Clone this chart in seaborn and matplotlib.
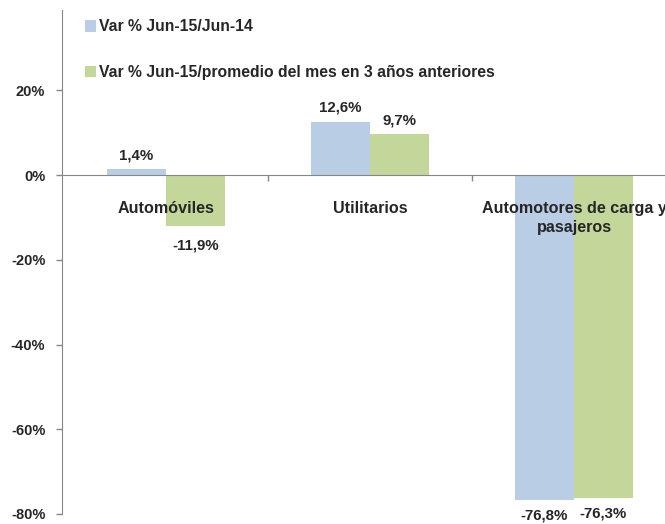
import matplotlib
matplotlib.use("Agg")
import matplotlib.pyplot as plt
import seaborn as sns
import pandas as pd

categories = ["Automóviles", "Utilitarios", "Automotores de carga y\npasajeros"]
series_names = ["Var % Jun-15/Jun-14", "Var % Jun-15/promedio del mes en 3 años anteriores"]
var_anual = [1.4, 12.6, -76.8]
var_promedio = [-11.9, 9.7, -76.3]
y_ticks = [-80, -60, -40, -20, 0, 20]
colors = ["#B9CDE5", "#C4D79B"]

df = pd.DataFrame({
    "cat": categories * 2,
    "serie": [series_names[0]] * 3 + [series_names[1]] * 3,
    "val": var_anual + var_promedio,
})

sns.set_style("white")
plt.rcParams["font.family"] = ["Liberation Sans", "DejaVu Sans"]
plt.rcParams["font.weight"] = "bold"

fig = plt.figure(figsize=(6.65, 5.24), dpi=100)
left_px = 62
ax = fig.add_axes([left_px / 665, 8 / 524, 1 - left_px / 665, 1 - 18 / 524])

sns.barplot(data=df, x="cat", y="val", hue="serie", palette=colors,
            width=0.578, saturation=1, ax=ax, legend=True, linewidth=0)

ax.set_xlim(-0.51, 2.446)
ax.set_ylim(-80.5, 39)

gray = "#868686"
for s in ["top", "right"]:
    ax.spines[s].set_visible(False)
ax.spines["left"].set_color(gray)
ax.spines["bottom"].set_color(gray)
ax.spines["bottom"].set_position(("data", 0))
ax.spines["left"].set_bounds(-80, 39)

ax.set_yticks(y_ticks)
ax.set_yticklabels([f"{v}%" for v in y_ticks], fontsize=10.5, fontweight="bold")
ax.set_xticks([0.5, 1.5])
ax.set_xticklabels(["", ""])
ax.tick_params(axis="both", direction="out", length=4, color=gray, width=1)
ax.tick_params(axis="y", left=True, pad=8)
ax.tick_params(axis="x", bottom=True)
ax.set_xlabel("")
ax.set_ylabel("")

# category labels inside the plot under zero line
for i, c in enumerate(categories):
    ax.text(i, -6.0, c, ha="center", va="top", fontsize=11.6, fontweight="bold",
            linespacing=1.35)

# data labels
vals = [var_anual, var_promedio]
for cont, v in zip(ax.containers, vals):
    for rect, x in zip(cont.patches, v):
        cx = rect.get_x() + rect.get_width() / 2
        lab = f"{x:.1f}%".replace(".", ",")
        if x >= 0:
            ax.annotate(lab, (cx, x), xytext=(0, 5), textcoords="offset points",
                        ha="center", va="bottom", fontsize=10.8, fontweight="bold",
                        annotation_clip=False)
        else:
            off = -9 if x > -70 else -6
            ax.annotate(lab, (cx, x), xytext=(0, off), textcoords="offset points",
                        ha="center", va="top", fontsize=10.8, fontweight="bold",
                        annotation_clip=False)

leg = ax.legend(loc="upper left", bbox_to_anchor=(0.022, 1.0), frameon=False,
                fontsize=11.3, labelspacing=1.95, handlelength=0.75, handleheight=0.75,
                handletextpad=0.15, borderaxespad=0.2)
for t in leg.get_texts():
    t.set_fontweight("bold")

fig.savefig("out.png", dpi=100)
